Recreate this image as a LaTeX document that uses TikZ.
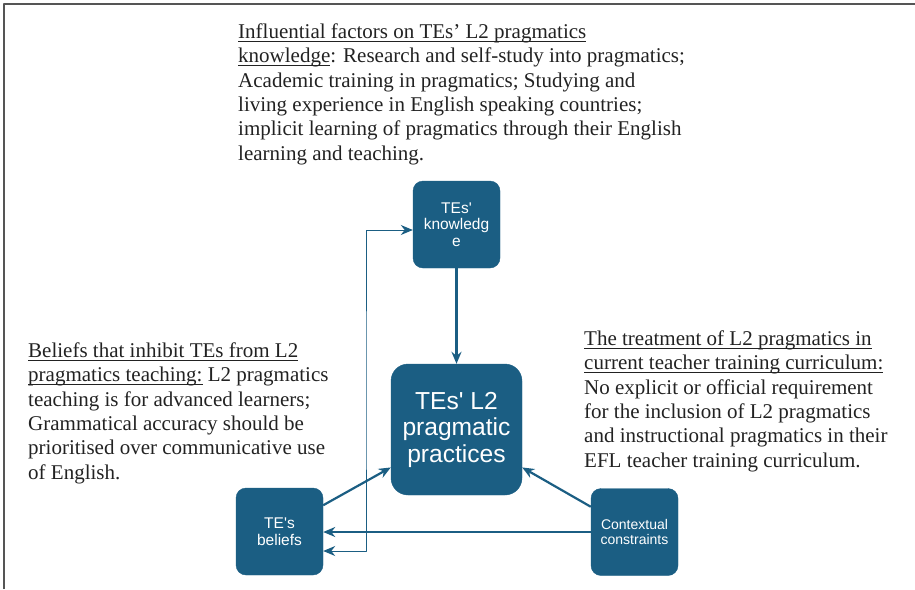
\documentclass[tikz,border=0pt]{standalone}
\usepackage{fontspec}
\setmainfont{Liberation Serif}
\newfontfamily\boxfont{Liberation Sans}
\usetikzlibrary{arrows.meta}
\definecolor{boxblue}{HTML}{1B5E83}
\definecolor{framegray}{HTML}{555555}
\definecolor{inkgray}{HTML}{222222}
% underline that runs through the descenders
\newcommand{\uln}[1]{\setbox0=\hbox{#1}\rlap{\rule[-3.5pt]{\wd0}{1.1pt}}\box0\relax}
\tikzset{
	box/.style={draw=boxblue, fill=boxblue, text=white, rounded corners=10pt, minimum width=87pt, minimum height=87pt, inner sep=2pt, align=center, font=\boxfont\fontsize{15.5}{16.5}\selectfont},
	link/.style={draw=boxblue, line width=2.2pt, ->},
	sidetext/.style={anchor=north west, inner sep=0pt, align=left, text=inkgray, font=\fontsize{21}{24.4}\selectfont},
}
\begin{document}
\begin{tikzpicture}[x=1pt, y=-1pt, >={Stealth[length=12pt,width=10pt]}, line join=round]
	\useasboundingbox (0,0) rectangle (915,589);
	\draw[framegray, line width=1.5pt] (4,589)--(4,4)--(915,4);
	% boxes
	\node[box] (know) at (456.5,224.5) {TEs\textquotesingle\\knowledg\\e};
	\node[box, minimum width=131pt, minimum height=131pt, rounded corners=17pt, font=\boxfont\fontsize{24.6}{26.5}\selectfont] (prac) at (456.5,429.5) {TEs\textquotesingle{} L2\\pragmatic\\practices};
	\node[box] (beli) at (279.5,531.5) {TE\textquotesingle s\\beliefs};
	\node[box, font=\boxfont\fontsize{14}{15.5}\selectfont] (cont) at (634.5,532) {Contextual\\constraints};
	% links
	\draw[link] (know)--(prac);
	\draw[link] (beli.31)--(prac.210);
	\draw[link] (cont.150)--(prac.330);
	\draw[link] (cont.west)--(cont.west -| beli.east);
	\coordinate (kin) at ([yshift=-5.5pt]know.west);
	\coordinate (bout) at ([yshift=-19.5pt]beli.east);
	\draw[link, line width=1pt, <->] (bout) -| (366,390) |- (kin);
	% texts
	\node[sidetext] (infl) at (238,21) {\strut\uln{Influential factors on TEs' L2 pragmatics}\\\uln{knowledge}: Research and self-study into pragmatics;\\Academic training in pragmatics; Studying and\\living experience in English speaking countries;\\implicit learning of pragmatics through their English\\learning and teaching.};
	\node[sidetext] (inhib) at (28,340) {\strut\uln{Beliefs that inhibit TEs from L2}\\\uln{pragmatics teaching:} L2 pragmatics\\teaching is for advanced learners;\\Grammatical accuracy should be\\prioritised over communicative use\\of English.};
	\node[sidetext] (treat) at (584,328) {\strut\uln{The treatment of L2 pragmatics in}\\\uln{current teacher training curriculum:}\\No explicit or official requirement\\for the inclusion of L2 pragmatics\\and instructional pragmatics in their\\EFL teacher training curriculum.};
\end{tikzpicture}
\end{document}
